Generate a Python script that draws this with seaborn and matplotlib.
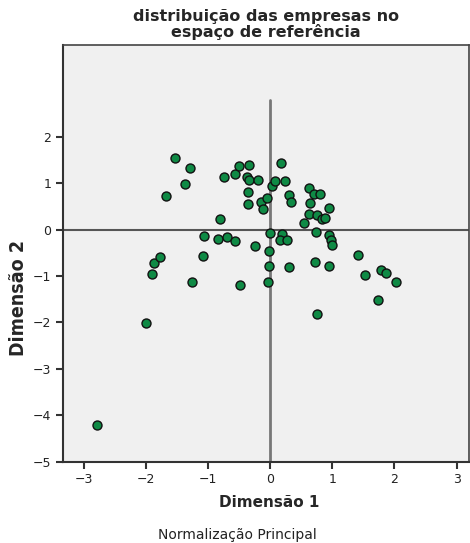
import matplotlib
matplotlib.use("Agg")
import matplotlib.pyplot as plt
from matplotlib import font_manager
import seaborn as sns
import pandas as pd

# coordenadas das empresas
dim1 = [-2.79, -1.99, -1.90, -1.87, -1.77, -1.68, -1.53, -1.36, -1.28, -1.26,
        -1.08, -1.07, -0.84, -0.69, -0.57, -0.80, -0.74, -0.57, -0.50, -0.34,
        -0.37, -0.34, -0.20, -0.35, -0.35, -0.15, -0.12, -0.05, 0.03, 0.08,
        0.17, 0.24, 0.30, 0.34, 0.63, 0.70, 0.81, 0.64, 0.94, 0.63,
        0.75, 0.83, 0.89, 0.54, -0.48, -0.24, 0.00, 0.20, 0.16, 0.28,
        -0.01, -0.01, 0.31, -0.04, 0.74, 0.94, 0.98, 1.00, 0.72, 0.95,
        1.41, 1.52, 1.78, 1.87, 2.02, 1.73, 0.75]
dim2 = [-4.21, -2.02, -0.95, -0.71, -0.59, 0.72, 1.55, 0.98, 1.34, -1.12,
        -0.57, -0.13, -0.20, -0.15, -0.25, 0.22, 1.13, 1.19, 1.38, 1.40,
        1.14, 1.08, 1.07, 0.82, 0.55, 0.59, 0.44, 0.69, 0.94, 1.05,
        1.43, 1.05, 0.74, 0.60, 0.89, 0.76, 0.76, 0.58, 0.47, 0.34,
        0.32, 0.24, 0.26, 0.14, -1.20, -0.35, -0.08, -0.10, -0.23, -0.22,
        -0.46, -0.79, -0.80, -1.13, -0.06, -0.11, -0.23, -0.34, -0.70, -0.79,
        -0.55, -0.97, -0.86, -0.93, -1.12, -1.52, -1.81]

xticks = [-3, -2, -1, 0, 1, 2, 3]
yticks = [-5, -4, -3, -2, -1, 0, 1, 2]

df = pd.DataFrame({"Dimensão 1": dim1, "Dimensão 2": dim2})

sns.set_style("ticks", {"axes.facecolor": "#f0f0f0", "axes.edgecolor": "#333333"})

fig = plt.figure(figsize=(4.70, 5.43), dpi=100)
ax = fig.add_axes([0.134, 0.150, 0.864, 0.767])

# linhas de referência
ax.axhline(0, color="#555555", linewidth=1.5, zorder=1)
ax.plot([0, 0], [-5, 2.8], color="#777777", linewidth=2, zorder=1)

sns.scatterplot(data=df, x="Dimensão 1", y="Dimensão 2", ax=ax, s=42,
                color="#0f8a45", edgecolor="#111111", linewidth=1.0, zorder=3)

ax.set_xlim(-3.33, 3.2)
ax.set_ylim(-5, 3.98)
ax.set_xticks(xticks)
ax.set_yticks(yticks)
ax.tick_params(axis="both", direction="out", length=5, width=1.5,
               colors="#333333", labelsize=9, labelcolor="#222222")
for lado in ["left", "bottom"]:
    ax.spines[lado].set_linewidth(1.5)
for lado in ["top", "right"]:
    ax.spines[lado].set_visible(True)
    ax.spines[lado].set_linewidth(1.2)
    ax.spines[lado].set_color("#444444")

ax.set_xlabel("")
ax.set_ylabel("")
fig.text(0.566, 0.955, "distribuição das empresas no\nespaço de referência",
         ha="center", va="center", fontsize=11.5, fontweight="bold",
         linespacing=0.95)

fig.text(0.572, 0.074, "Dimensão 1", ha="center", va="center",
         fontsize=11, fontweight="bold")

# rótulo vertical em fonte estreita, se existir
nomes = {f.name for f in font_manager.fontManager.ttflist}
fam_y = "Liberation Sans Narrow" if "Liberation Sans Narrow" in nomes else "DejaVu Sans"
fig.text(0.040, 0.451, "Dimensão 2", ha="center", va="center", rotation=90,
         fontsize=14, fontweight="bold", family=fam_y, fontstretch="condensed")
fig.text(0.505, 0.015, "Normalização Principal", ha="center", va="center",
         fontsize=10, color="#222222")

fig.savefig("out.png", dpi=100)
